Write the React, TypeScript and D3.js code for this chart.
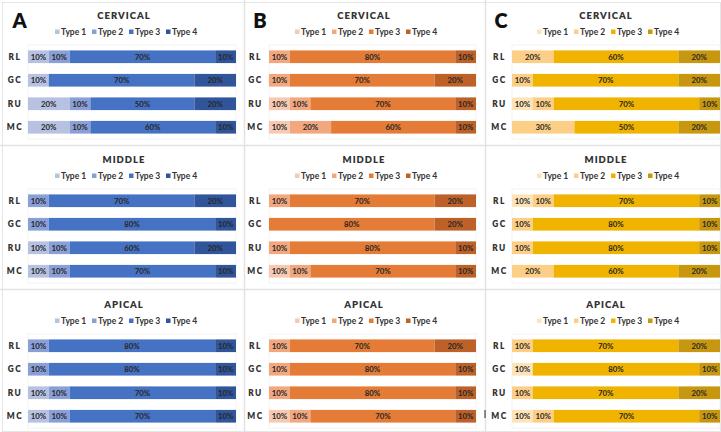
import React from "react";
import * as d3 from "d3";

const categories = ["RL", "GC", "RU", "MC"];
const types = ["Type 1", "Type 2", "Type 3", "Type 4"];
const regions = ["CERVICAL", "MIDDLE", "APICAL"];
const panelLetters = ["A", "B", "C"];

// values per category: [Type1, Type2, Type3, Type4]
const aCervical = [[10, 10, 70, 10], [10, 0, 70, 20], [20, 10, 50, 20], [20, 10, 60, 10]];
const aMiddle = [[0, 10, 70, 20], [0, 10, 80, 10], [10, 10, 60, 20], [10, 10, 70, 10]];
const aApical = [[0, 10, 80, 10], [0, 10, 80, 10], [10, 10, 70, 10], [10, 10, 70, 10]];

const bCervical = [[0, 10, 80, 10], [0, 10, 70, 20], [10, 10, 70, 10], [10, 20, 60, 10]];
const bMiddle = [[0, 10, 70, 20], [0, 0, 80, 20], [0, 10, 80, 10], [10, 10, 70, 10]];
const bApical = [[0, 10, 70, 20], [0, 10, 80, 10], [0, 10, 80, 10], [10, 10, 70, 10]];

const cCervical = [[0, 20, 60, 20], [0, 10, 70, 20], [10, 10, 70, 10], [0, 30, 50, 20]];
const cMiddle = [[10, 10, 70, 10], [0, 10, 80, 10], [0, 10, 80, 10], [0, 20, 60, 20]];
const cApical = [[0, 10, 70, 20], [10, 0, 80, 10], [0, 10, 70, 20], [10, 10, 70, 10]];

const blueColors = ["#b7c2e3", "#8a9fd8", "#4672c4", "#30559a"];
const orangeColors = ["#f6c9b1", "#f2a77f", "#e47b36", "#bd6129"];
const goldColors = ["#fde3b8", "#fdcf86", "#f0b300", "#c7980f"];

const panelData = [
  [aCervical, aMiddle, aApical],
  [bCervical, bMiddle, bApical],
  [cCervical, cMiddle, cApical],
];
const panelColors = [blueColors, orangeColors, goldColors];

// layout
const colBarX = [[28, 236], [269, 476], [512, 720]];
const colLabelX = [15, 255.5, 499.5];
const colCenter = [124, 364, 606];
const colLetterX = [19.5, 260, 501];
const rowBase = [0, 144, 289];
const W = 721;
const H = 432;
const font = "Lato, 'Open Sans', 'DejaVu Sans', sans-serif";

function Panel({ col, row }: { col: number; row: number }) {
  const data = panelData[col][row];
  const colors = panelColors[col];
  const base = rowBase[row];
  const [x0, x1] = colBarX[col];
  const x = d3.scaleLinear().domain([0, 100]).range([x0, x1]);
  const y = d3
    .scaleBand<string>()
    .domain(categories)
    .range([base + 45, base + 139])
    .paddingInner(0.46)
    .paddingOuter(0.23);
  const stack = d3
    .stack<number[], number>()
    .keys([0, 1, 2, 3])
    .value((d, k) => d[k]);
  const series = stack(data);
  const cx = colCenter[col];
  const legendStep = 37;
  const legendStart = cx + 3 - (legendStep * 4) / 2 + 2;
  return (
    <g>
      <rect
        x={x0}
        y={base + 45}
        width={x1 - x0}
        height={94}
        fill="none"
        stroke="#efefef"
        strokeWidth={0.8}
      />
      {row === 0 && (
        <text
          x={colLetterX[col]}
          y={28}
          textAnchor="middle"
          fontFamily={font}
          fontWeight={800}
          fontSize={20}
          fill="#111"
        >
          {panelLetters[col]}
        </text>
      )}
      <text
        x={cx}
        y={base + 18.5}
        textAnchor="middle"
        fontFamily={font}
        fontWeight={800}
        fontSize={9.5}
        letterSpacing={1}
        fill="#333"
      >
        {regions[row]}
      </text>
      {types.map((t, i) => (
        <g key={t} transform={`translate(${legendStart + i * legendStep},${base + 32})`}>
          <rect x={0} y={-2.5} width={4.5} height={4.5} fill={colors[i]} />
          <text
            x={6}
            y={3}
            fontFamily={font}
            fontWeight={700}
            fontSize={8.5}
            fill="#333"
          >
            {t}
          </text>
        </g>
      ))}
      {categories.map((c) => (
        <text
          key={c}
          x={colLabelX[col]}
          y={(y(c) as number) + y.bandwidth() / 2 + 3}
          textAnchor="middle"
          fontFamily={font}
          fontWeight={800}
          fontSize={8.3}
          letterSpacing={1.5}
          fill="#333"
        >
          {c}
        </text>
      ))}
      {series.map((s, si) => (
        <g key={si}>
          {s.map((seg, ci) => {
            const v = seg[1] - seg[0];
            if (v <= 0) return null;
            const cat = categories[ci];
            const xs = x(seg[0]);
            const xe = x(seg[1]);
            return (
              <g key={cat}>
                <rect
                  x={xs}
                  y={y(cat) as number}
                  width={xe - xs}
                  height={y.bandwidth()}
                  fill={colors[si]}
                />
                <text
                  x={(xs + xe) / 2}
                  y={(y(cat) as number) + y.bandwidth() / 2 + 2.8}
                  textAnchor="middle"
                  fontFamily={font}
                  fontWeight={700}
                  fontSize={7.8}
                  fill="#262626"
                >
                  {`${v}%`}
                </text>
              </g>
            );
          })}
        </g>
      ))}
    </g>
  );
}

export default function App() {
  return (
    <svg
      width={W}
      height={H}
      style={{ position: "absolute", left: 0, top: 0, background: "#fff" }}
    >
      <rect x={0} y={0} width={W} height={H} fill="#fff" />
      {/* panel frames */}
      <rect x={2.5} y={2.5} width={W - 3} height={H - 3} fill="none" stroke="#e6e6e6" />
      <line x1={244.5} x2={244.5} y1={0} y2={H} stroke="#e2e2e2" strokeWidth={1.5} />
      <line x1={485.5} x2={485.5} y1={0} y2={H} stroke="#e2e2e2" strokeWidth={1.5} />
      <line x1={0} x2={W} y1={145.5} y2={145.5} stroke="#e2e2e2" strokeWidth={1.5} />
      <line x1={0} x2={W} y1={289.5} y2={289.5} stroke="#e2e2e2" strokeWidth={1.5} />
      {[0, 1, 2].map((col) =>
        [0, 1, 2].map((row) => <Panel key={`${col}-${row}`} col={col} row={row} />)
      )}
      <line x1={485} x2={485} y1={410} y2={418} stroke="#222" strokeWidth={1} />
    </svg>
  );
}
